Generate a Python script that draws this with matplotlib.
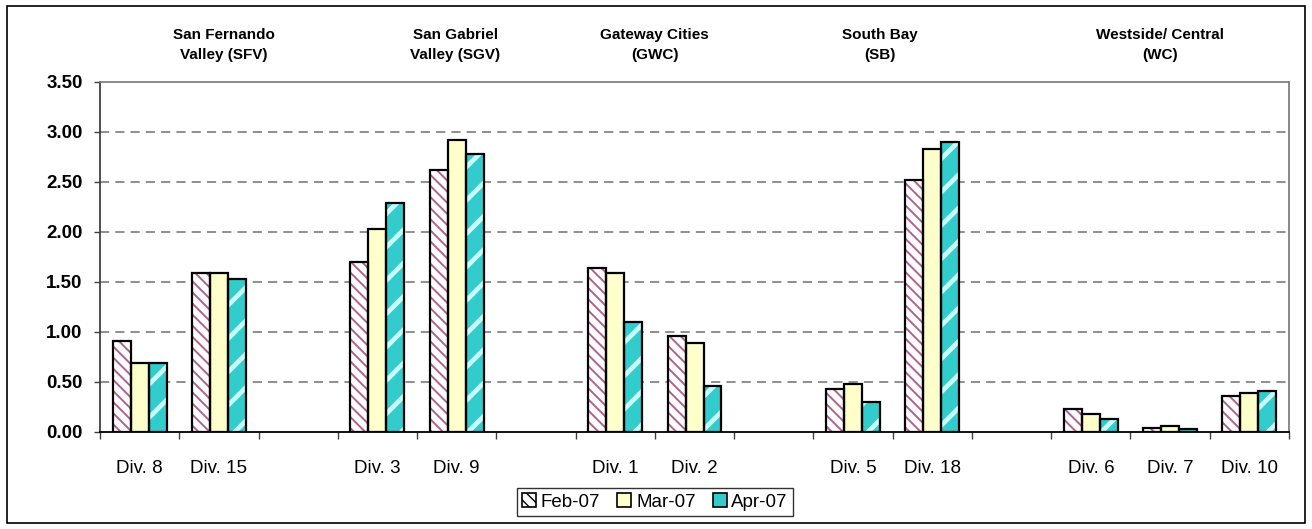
import numpy as np
import matplotlib.pyplot as plt
from matplotlib.patches import Rectangle, Patch

plt.rcParams['font.family'] = ['Liberation Sans', 'DejaVu Sans']

# categories along the x axis ('' marks the gap between regions)
divisions = ['Div. 8', 'Div. 15', '', 'Div. 3', 'Div. 9', '', 'Div. 1', 'Div. 2', '',
             'Div. 5', 'Div. 18', '', 'Div. 6', 'Div. 7', 'Div. 10']
feb07 = [0.91, 1.59, np.nan, 1.70, 2.62, np.nan, 1.64, 0.96, np.nan, 0.43, 2.52, np.nan, 0.23, 0.04, 0.36]
mar07 = [0.69, 1.59, np.nan, 2.03, 2.92, np.nan, 1.59, 0.89, np.nan, 0.48, 2.83, np.nan, 0.18, 0.06, 0.39]
apr07 = [0.69, 1.53, np.nan, 2.29, 2.78, np.nan, 1.10, 0.46, np.nan, 0.30, 2.90, np.nan, 0.13, 0.03, 0.41]
months = ['Feb-07', 'Mar-07', 'Apr-07']

regions = ['San Fernando\nValley (SFV)', 'San Gabriel\nValley (SGV)', 'Gateway Cities\n(GWC)',
           'South Bay\n(SB)', 'Westside/ Central\n(WC)']
region_x = [1.06, 3.98, 6.5, 9.34, 12.87]

fig = plt.figure(figsize=(13.12, 5.29), dpi=100)
ax = fig.add_axes([0.0762, 0.1834, 0.9063, 0.6616])

x = np.arange(len(divisions))
w = 0.227

styles = [
    dict(face='white', hatch='\\\\\\', hcolor='#b0628f', hlw=1.4),
    dict(face='#ffffcc', hatch=None, hcolor='#ffffcc', hlw=1.0),
    dict(face='#33cccc', hatch='/', hcolor='#c8ffff', hlw=3.4),
]
series = [feb07, mar07, apr07]
for i, (vals, st) in enumerate(zip(series, styles)):
    pos = x + (i - 1) * w
    with plt.rc_context({'hatch.linewidth': st['hlw']}):
        bars = ax.bar(pos, vals, w, color=st['face'], edgecolor=st['hcolor'],
                      hatch=st['hatch'], linewidth=0, zorder=2)
    for b in bars:
        if hasattr(b, 'set_hatch_linewidth'):
            b.set_hatch_linewidth(st['hlw'])
    ax.bar(pos, vals, w, facecolor='none', edgecolor='black', linewidth=1.6, zorder=3)

ax.set_xlim(-0.5, len(divisions) - 0.5)
ax.set_ylim(0, 3.5)
ax.set_yticks(np.arange(0, 3.51, 0.5))
ax.set_yticklabels(['%.2f' % v for v in np.arange(0, 3.51, 0.5)],
                   fontsize=13.5, fontweight='bold')
ax.tick_params(axis='y', direction='out', length=4.5, width=1, pad=8, colors='#404040',
               labelcolor='black')

ax.set_xticks(x)
ax.set_xticklabels(divisions, fontsize=13.5)
ax.set_xticks(np.arange(-0.5, len(divisions), 1.0), minor=True)
ax.tick_params(axis='x', which='major', length=0, pad=20)
ax.tick_params(axis='x', which='minor', direction='out', length=5, width=1, color='#404040')

for v in np.arange(0.5, 3.01, 0.5):
    ax.axhline(v, color='#707070', linestyle=(0, (6, 4)), linewidth=1.1, zorder=1)

for side in ['top', 'right']:
    ax.spines[side].set_color('#808080')
    ax.spines[side].set_linewidth(1.3)
ax.spines['left'].set_color('#404040')
ax.spines['left'].set_linewidth(1.3)
ax.spines['bottom'].set_color('black')
ax.spines['bottom'].set_linewidth(1.3)

for rx, name in zip(region_x, regions):
    ax.text(rx, 1.105, name, transform=ax.get_xaxis_transform(), ha='center', va='center',
            fontsize=11, fontweight='bold', linespacing=1.5)

handles = []
for st, m in zip(styles, months):
    handles.append(Patch(facecolor=st['face'], edgecolor='black', hatch=st['hatch'],
                         linewidth=1.2, label=m))
leg = fig.legend(handles=handles, loc='center', bbox_to_anchor=(655 / 1312, 1 - 502 / 529),
                 ncol=3, fontsize=13.5, frameon=True, fancybox=False, edgecolor='black',
                 handlelength=0.75, handleheight=0.75, handletextpad=0.25, columnspacing=0.9,
                 borderpad=0.3)
leg.get_frame().set_linewidth(1.0)

fig.patches.append(Rectangle((0.005, 0.011), 0.99, 0.978, transform=fig.transFigure,
                             fill=False, edgecolor='black', linewidth=1.2))

fig.savefig('out.png', dpi=100)
